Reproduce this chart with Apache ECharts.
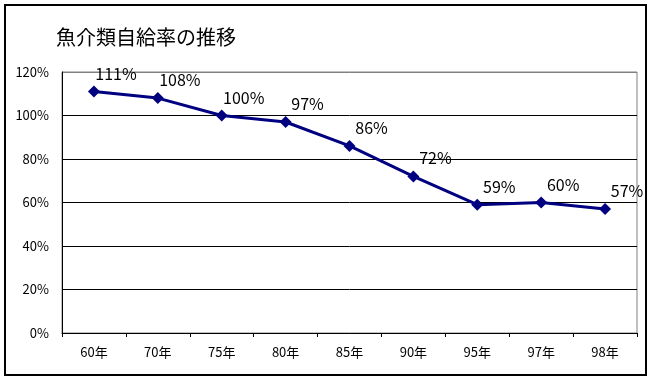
<!DOCTYPE html>
<html><head><meta charset="utf-8">
<script src="https://cdn.jsdelivr.net/npm/echarts@6/dist/echarts.min.js"></script>
<style>html,body{margin:0;padding:0;background:#fff}#c{width:653px;height:381px}</style>
</head><body><div id="c"></div>
<script>
const titleText = '魚介類自給率の推移';
const categories = ['60年','70年','75年','80年','85年','90年','95年','97年','98年'];
const rates = [1.11, 1.08, 1.00, 0.97, 0.86, 0.72, 0.59, 0.60, 0.57];
const yMin = 0, yMax = 1.2, yStep = 0.2;

const font = '"Noto Sans CJK JP", "Noto Sans", sans-serif';
const chart = echarts.init(document.getElementById('c'), null, {renderer:'canvas'});
chart.setOption({
  animation:false,
  backgroundColor:'#fff',
  title:{text:titleText,left:51,top:22,textStyle:{fontFamily:font,fontSize:20,fontWeight:'normal',color:'#000'}},
  graphic:[{type:'rect',shape:{x:5,y:5,width:641,height:370},style:{fill:'none',stroke:'#000',lineWidth:2},z:-1}],
  grid:{left:62,right:16,top:72,bottom:48,show:true,borderColor:'#808080',borderWidth:1,backgroundColor:'#fff'},
  xAxis:{type:'category',data:categories,boundaryGap:true,
    axisLine:{lineStyle:{color:'#000',width:1}},
    axisTick:{show:true,inside:false,length:4,lineStyle:{color:'#000'}},
    axisLabel:{fontFamily:font,fontSize:13,color:'#000',margin:13}},
  yAxis:{type:'value',min:yMin,max:yMax,interval:yStep,
    axisLine:{show:true,lineStyle:{color:'#000',width:1}},
    axisTick:{show:false},
    splitLine:{lineStyle:{color:['#000','#000','#000','#000','#000','#000','#808080'],width:1}},
    axisLabel:{fontFamily:font,fontSize:13,color:'#000',margin:13,formatter:v=>Math.round(v*100)+'%'}},
  series:[{type:'line',data:rates,
    lineStyle:{color:'#000080',width:3},
    itemStyle:{color:'#000080'},
    symbol:'diamond',symbolSize:12,
    label:{show:true,position:'top',offset:[22,1],fontFamily:font,fontSize:16,color:'#000',
      formatter:p=>Math.round(p.value*100)+'%'}}]
});
</script></body></html>
